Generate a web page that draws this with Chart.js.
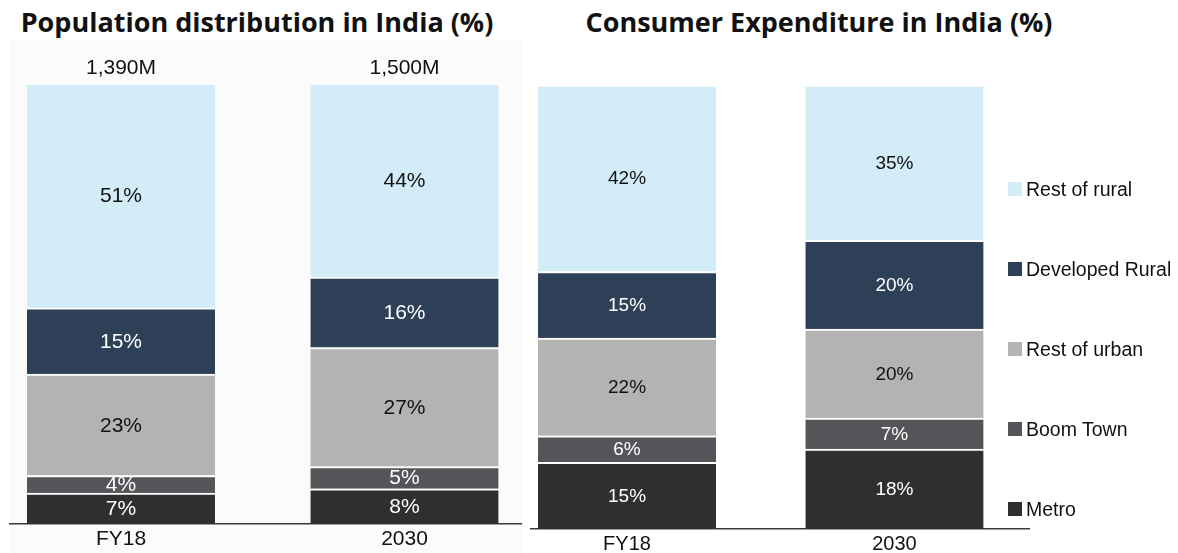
<!DOCTYPE html>
<html lang="en">
<head>
    <meta charset="UTF-8">
    <title>India population and consumer expenditure</title>
    <script src="https://cdn.jsdelivr.net/npm/chart.js"></script>
    <style>
        body { margin: 0; background: #fff; width: 1178px; height: 553px; position: relative; overflow: hidden; }
        .panel-bg { position: absolute; left: 10px; top: 40px; width: 512px; height: 513px; background: #fbfbfb; }
        .title { position: absolute; top: 3px; font-family: "Open Sans", sans-serif; font-weight: 700; font-size: 27px; color: #111; text-align: center; white-space: nowrap; }
        canvas { position: absolute; top: 0; }
        #legend { position: absolute; left: 1008px; top: 0; font-family: "Liberation Sans", Arial, sans-serif; font-size: 19.5px; color: #111; }
        .item { position: absolute; left: 0; white-space: nowrap; display: flex; align-items: center; height: 20px; }
        .swatch { width: 14px; height: 14px; margin-right: 4px; }
    </style>
</head>
<body>
    <div class="panel-bg"></div>
    <div class="title" style="left:0; width:514px;">Population distribution in India (%)</div>
    <div class="title" style="left:560px; width:518px;">Consumer Expenditure in India (%)</div>
    <canvas id="popChart" width="522" height="553" style="left:0"></canvas>
    <canvas id="expChart" width="658" height="553" style="left:520px"></canvas>
    <div id="legend"></div>
    <script>
        // Data (bottom to top of each stack)
        const categories = ['FY18', '2030'];
        const segments = ['Metro', 'Boom Town', 'Rest of urban', 'Developed Rural', 'Rest of rural'];

        const popMetro = [7, 8];
        const popBoomTown = [4, 5];
        const popRestUrban = [23, 27];
        const popDevRural = [15, 16];
        const popRestRural = [51, 44];
        const popTotals = ['1,390M', '1,500M'];

        const expMetro = [15, 18];
        const expBoomTown = [6, 7];
        const expRestUrban = [22, 20];
        const expDevRural = [15, 20];
        const expRestRural = [42, 35];

        // Styles
        const segColors = ['#2f2f31', '#545559', '#b3b3b3', '#2e4057', '#d3edf8'];
        const labelColors = ['#fff', '#fff', '#111', '#fff', '#111'];
        const FONT = '"Liberation Sans", Arial, sans-serif';

        function makeDatasets(seriesList, thickness) {
            return seriesList.map((vals, s) => ({
                label: segments[s],
                data: vals.map((v, i) => ({ x: i, y: v })),
                backgroundColor: segColors[s],
                borderColor: '#fff',
                borderWidth: { top: 2, left: 0, right: 0, bottom: 0 },
                borderSkipped: false,
                barThickness: thickness
            }));
        }

        const segLabels = {
            id: 'segLabels',
            afterDatasetsDraw(chart, args, opts) {
                const ctx = chart.ctx;
                ctx.save();
                ctx.textAlign = 'center';
                ctx.textBaseline = 'middle';
                ctx.font = opts.size + 'px ' + FONT;
                chart.data.datasets.forEach((ds, di) => {
                    const meta = chart.getDatasetMeta(di);
                    ctx.fillStyle = labelColors[di];
                    meta.data.forEach((bar, i) => {
                        ctx.fillText(ds.data[i].y + '%', bar.x, (bar.y + bar.base) / 2 + 1);
                    });
                });
                if (opts.totals) {
                    const top = chart.getDatasetMeta(chart.data.datasets.length - 1);
                    ctx.fillStyle = '#111';
                    ctx.font = '21px ' + FONT;
                    top.data.forEach((bar, i) => {
                        ctx.fillText(opts.totals[i], bar.x, bar.y - 15);
                    });
                }
                ctx.restore();
            }
        };

        function makeChart(id, datasets, cfg) {
            return new Chart(document.getElementById(id), {
                type: 'bar',
                data: { datasets: datasets },
                options: {
                    responsive: false,
                    animation: false,
                    layout: { padding: cfg.padding },
                    plugins: {
                        legend: { display: false },
                        tooltip: { enabled: false },
                        segLabels: { size: cfg.labelSize, totals: cfg.totals }
                    },
                    scales: {
                        x: {
                            type: 'linear',
                            stacked: true,
                            offset: false,
                            bounds: 'data',
                            min: cfg.xMin,
                            max: cfg.xMax,
                            grid: { display: false, drawTicks: false, offset: false },
                            border: { display: true, color: '#3a3a3a', width: 1.5 },
                            afterBuildTicks: scale => { scale.ticks = categories.map((c, i) => ({ value: i })); },
                            afterFit: scale => { scale.height = cfg.axisHeight; },
                            ticks: {
                                autoSkip: false,
                                maxRotation: 0,
                                padding: cfg.tickPad,
                                color: '#111',
                                font: { family: FONT, size: cfg.tickSize },
                                callback: v => categories[v]
                            }
                        },
                        y: { display: false, stacked: true, min: 0, max: 100 }
                    }
                },
                plugins: [segLabels]
            });
        }

        makeChart('popChart',
            makeDatasets([popMetro, popBoomTown, popRestUrban, popDevRural, popRestRural], 188),
            { padding: { left: 10, top: 83, right: 0, bottom: 0 }, xMin: -0.3915, xMax: 1.4145,
              axisHeight: 29, tickPad: 3, tickSize: 21, labelSize: 21, totals: popTotals });

        makeChart('expChart',
            makeDatasets([expMetro, expBoomTown, expRestUrban, expDevRural, expRestRural], 178),
            { padding: { left: 11, top: 85, right: 149, bottom: 0 }, xMin: -0.359, xMax: 1.503,
              axisHeight: 24, tickPad: 3, tickSize: 20, labelSize: 19 });

        // Legend (top to bottom: reverse stack order)
        const legend = document.getElementById('legend');
        segments.slice().reverse().forEach((name, k) => {
            const s = segments.length - 1 - k;
            const item = document.createElement('div');
            item.className = 'item';
            item.style.top = (179 + k * 80) + 'px';
            item.innerHTML = '<span class="swatch" style="background:' + segColors[s] + '"></span>' + name;
            legend.appendChild(item);
        });
    </script>
</body>
</html>
